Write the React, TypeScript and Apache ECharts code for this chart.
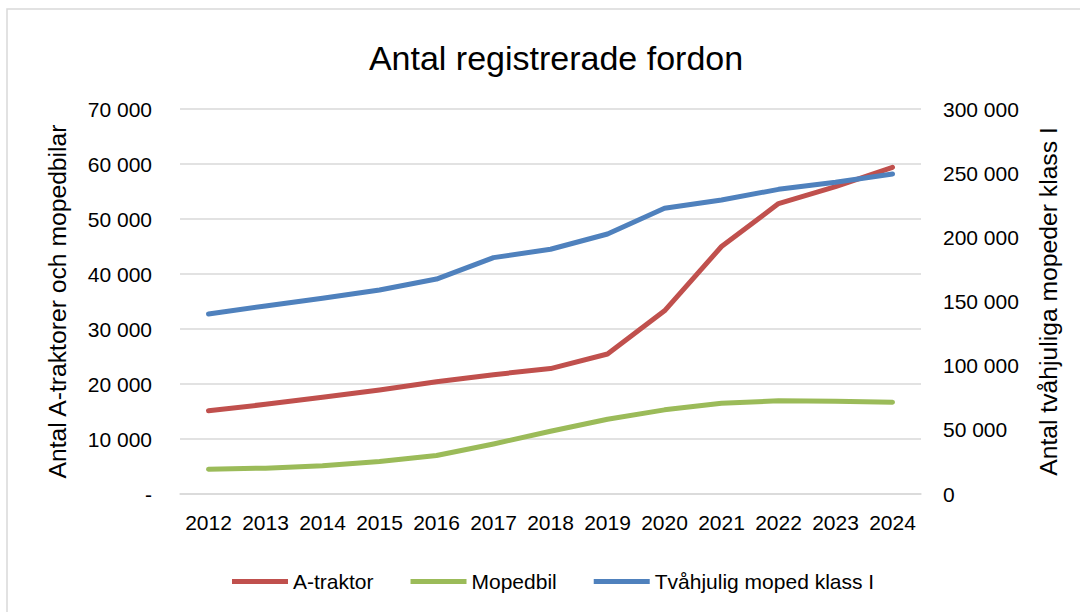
import React, { useEffect, useRef } from "react";
import * as echarts from "echarts";

const years = ["2012", "2013", "2014", "2015", "2016", "2017", "2018", "2019", "2020", "2021", "2022", "2023", "2024"];
const aTraktor = [15150, 16300, 17600, 18900, 20400, 21700, 22800, 25450, 33300, 45000, 52800, 55900, 59400];
const mopedbil = [4500, 4700, 5150, 5900, 7000, 9100, 11400, 13600, 15300, 16500, 16950, 16850, 16700];
const tvahjulig = [140300, 146500, 152500, 159000, 167500, 184200, 190700, 202600, 222600, 229100, 237400, 242900, 249400];

const seriesNames = ["A-traktor", "Mopedbil", "Tvåhjulig moped klass I"];
const colors = ["#C0504D", "#9BBB59", "#4F81BD"];

const FONT = "Liberation Sans";

function fmt(v: number): string {
  return String(Math.round(v)).replace(/\B(?=(\d{3})+(?!\d))/g, " ");
}

export default function App() {
  const ref = useRef<HTMLDivElement>(null);
  useEffect(() => {
    if (!ref.current) return;
    const chart = echarts.init(ref.current, undefined, { renderer: "svg" });
    const lineSeries = (name: string, data: number[], color: string, yAxisIndex: number) => ({
      name,
      type: "line",
      data,
      yAxisIndex,
      symbol: "none",
      showSymbol: false,
      lineStyle: { color, width: 5, cap: "round", join: "round" },
      itemStyle: { color },
    });
    chart.setOption({
      animation: false,
      backgroundColor: "#ffffff",
      textStyle: { fontFamily: FONT, color: "#000" },
      title: {
        text: "Antal registrerade fordon",
        left: 551,
        textAlign: "center",
        top: 36,
        textStyle: { fontFamily: FONT, fontSize: 34, fontWeight: "normal", color: "#000" },
      },
      graphic: [
        {
          type: "rect",
          shape: { x: 7, y: 9, width: 1200, height: 800 },
          style: { fill: "none", stroke: "#d9d9d9", lineWidth: 1.5 },
          silent: true,
        },
      ],
      legend: {
        data: seriesNames,
        left: 227,
        top: 566,
        icon: "rect",
        itemWidth: 56,
        itemHeight: 5,
        itemGap: 37,
        textStyle: { fontFamily: FONT, fontSize: 21, color: "#000" },
      },
      grid: { left: 180, right: 159, top: 109, bottom: 118, containLabel: false },
      xAxis: {
        type: "category",
        data: years,
        boundaryGap: true,
        axisLine: { show: true, lineStyle: { color: "#d9d9d9", width: 1.5 } },
        axisTick: { show: false },
        axisLabel: { fontFamily: FONT, fontSize: 21, color: "#000", margin: 18, interval: 0 },
      },
      yAxis: [
        {
          type: "value",
          min: 0,
          max: 70000,
          interval: 10000,
          position: "left",
          name: "Antal A-traktorer och mopedbilar",
          nameLocation: "middle",
          nameRotate: 90,
          nameGap: 110,
          nameTextStyle: { fontFamily: FONT, fontSize: 24.7, color: "#000" },
          axisLine: { show: false },
          axisTick: { show: false },
          axisLabel: {
            fontFamily: FONT,
            fontSize: 21,
            color: "#000",
            margin: 28,
            formatter: (v: number) => (v === 0 ? "-" : fmt(v)),
          },
          splitLine: { show: true, lineStyle: { color: "#d9d9d9", width: 1.5 } },
        },
        {
          type: "value",
          min: 0,
          max: 300000,
          interval: 50000,
          position: "right",
          name: "Antal tvåhjuliga mopeder klass I",
          nameLocation: "middle",
          nameRotate: 90,
          nameGap: 115,
          nameTextStyle: { fontFamily: FONT, fontSize: 24.7, color: "#000" },
          axisLine: { show: false },
          axisTick: { show: false },
          axisLabel: {
            fontFamily: FONT,
            fontSize: 21,
            color: "#000",
            margin: 22,
            formatter: (v: number) => fmt(v),
          },
          splitLine: { show: false },
        },
      ],
      series: [
        lineSeries(seriesNames[0], aTraktor, colors[0], 0),
        lineSeries(seriesNames[1], mopedbil, colors[1], 0),
        lineSeries(seriesNames[2], tvahjulig, colors[2], 1),
      ],
    });
    return () => chart.dispose();
  }, []);
  return (
    <div
      ref={ref}
      style={{ position: "absolute", left: 0, top: 0, width: 1080, height: 612 }}
    />
  );
}
